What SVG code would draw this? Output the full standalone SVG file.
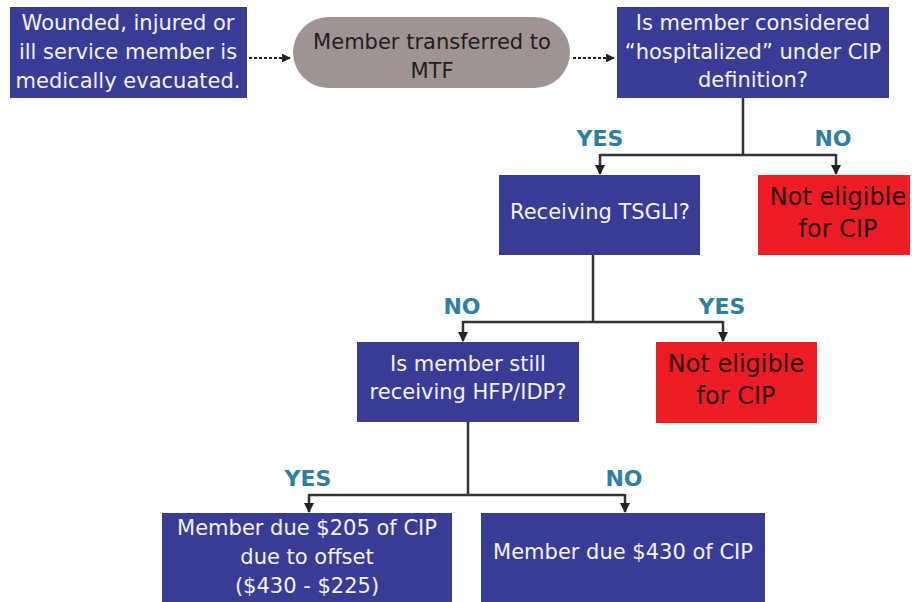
<svg xmlns="http://www.w3.org/2000/svg" width="912" height="602" viewBox="0 0 912 602">
<style>
.blue{fill:#393c96}
.red{fill:#ee1c25}
.pill{fill:#a09393}
text{font-family:"DejaVu Sans","Verdana",sans-serif;text-anchor:middle}
.wt{fill:#f2f2f2;font-size:21px}
.dt{fill:#1e1e1e;font-size:21px}
.rt{fill:#2a0505;font-size:24px}
.lbl{fill:#2e7fa3;font-size:22px;font-weight:bold}
.ln{stroke:#333;stroke-width:2.5;fill:none}
.dash{stroke:#222;stroke-width:2.2;stroke-dasharray:3 2;fill:none}
</style>
<defs>
<marker id="ah" viewBox="0 0 10 10" refX="9" refY="5" markerWidth="4" markerHeight="4" orient="auto">
<path d="M0,0 L10,5 L0,10 z" fill="#222"/>
</marker>
</defs>
<g id="connectors">
<path class="dash" d="M249,58 H290" marker-end="url(#ah)"/>
<path class="dash" d="M573,58 H614" marker-end="url(#ah)"/>
<path class="ln" d="M743,98 V155 M600,155 H836" />
<path class="ln" d="M600,154 V174" marker-end="url(#ah)"/>
<path class="ln" d="M836,154 V174" marker-end="url(#ah)"/>
<path class="ln" d="M593,255 V322 M463,322 H723"/>
<path class="ln" d="M463,321 V341" marker-end="url(#ah)"/>
<path class="ln" d="M723,321 V341" marker-end="url(#ah)"/>
<path class="ln" d="M468,422 V495 M309,495 H625"/>
<path class="ln" d="M309,494 V512" marker-end="url(#ah)"/>
<path class="ln" d="M625,494 V512" marker-end="url(#ah)"/>
</g>
<g id="labels">
<text class="lbl" x="600" y="146">YES</text>
<text class="lbl" x="833" y="146">NO</text>
<text class="lbl" x="462" y="314">NO</text>
<text class="lbl" x="722" y="314">YES</text>
<text class="lbl" x="308" y="486">YES</text>
<text class="lbl" x="624" y="486">NO</text>
</g>
<g id="evacuated">
<rect class="blue" x="10" y="7" width="237" height="91"/>
<text class="wt" x="128" y="30">Wounded, injured or</text>
<text class="wt" x="128" y="59">ill service member is</text>
<text class="wt" x="128" y="88">medically evacuated.</text>
</g>
<g id="mtf">
<rect class="pill" x="293" y="17" width="277" height="71" rx="35.5"/>
<text class="dt" x="432" y="49">Member transferred to</text>
<text class="dt" x="432" y="78">MTF</text>
</g>
<g id="hospitalized">
<rect class="blue" x="617" y="7" width="272" height="91"/>
<text class="wt" x="753" y="30">Is member considered</text>
<text class="wt" x="753" y="59">“hospitalized” under CIP</text>
<text class="wt" x="753" y="87">definition?</text>
</g>
<g id="tsgli">
<rect class="blue" x="499" y="175" width="201" height="80"/>
<text class="wt" x="600" y="219">Receiving TSGLI?</text>
</g>
<g id="noteligible1">
<rect class="red" x="758" y="175" width="152" height="80"/>
<text class="rt" x="838" y="205">Not eligible</text>
<text class="rt" x="838" y="237">for CIP</text>
</g>
<g id="hfp">
<rect class="blue" x="357" y="342" width="222" height="80"/>
<text class="wt" x="468" y="371">Is member still</text>
<text class="wt" x="468" y="399">receiving HFP/IDP?</text>
</g>
<g id="noteligible2">
<rect class="red" x="656" y="342" width="161" height="81"/>
<text class="rt" x="736" y="372">Not eligible</text>
<text class="rt" x="736" y="404">for CIP</text>
</g>
<g id="due205">
<rect class="blue" x="162" y="513" width="290" height="89"/>
<text class="wt" x="307" y="535">Member due $205 of CIP</text>
<text class="wt" x="307" y="564">due to offset</text>
<text class="wt" x="307" y="593">($430 - $225)</text>
</g>
<g id="due430">
<rect class="blue" x="481" y="513" width="284" height="89"/>
<text class="wt" x="623" y="559">Member due $430 of CIP</text>
</g>
</svg>
